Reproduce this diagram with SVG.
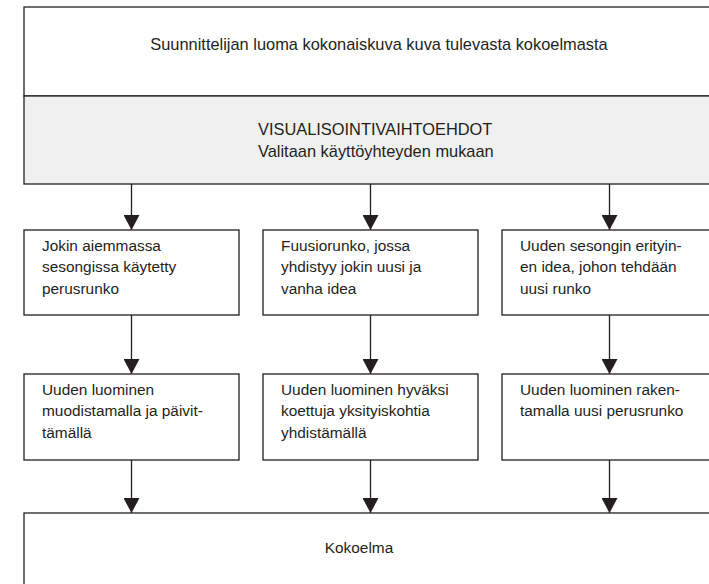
<svg xmlns="http://www.w3.org/2000/svg" width="709" height="584" viewBox="0 0 709 584">
<defs>
<style>
.box{fill:#ffffff;stroke:#231f20;stroke-width:1.3}
.gray{fill:#f0f0f0;stroke:#231f20;stroke-width:1.3}
.t{font-family:"Liberation Sans",Arial,sans-serif;font-size:15.4px;fill:#231f20}
.big{font-size:16.4px}
.c{text-anchor:middle}
.conn line{stroke:#231f20;stroke-width:1.3}
</style>
<marker id="ah" viewBox="0 0 15 16" refX="15" refY="8" markerWidth="15" markerHeight="16" markerUnits="userSpaceOnUse" orient="auto">
<path d="M0,0 L15,8 L0,16 Z" fill="#231f20"/>
</marker>
</defs>
<rect x="0" y="0" width="709" height="584" fill="#ffffff"/>
<g id="top">
<rect class="box" x="24" y="7" width="712" height="89"/>
<text class="t big c" x="379" y="50">Suunnittelijan luoma kokonaiskuva kuva tulevasta kokoelmasta</text>
</g>
<g id="visual">
<rect class="gray" x="24" y="96" width="712" height="88"/>
<text class="t big" x="258" y="135">VISUALISOINTIVAIHTOEHDOT</text>
<text class="t big" x="258" y="157">Valitaan käyttöyhteyden mukaan</text>
</g>
<g id="a1">
<rect class="box" x="24" y="230" width="215" height="85"/>
<text class="t" x="42" y="250.5">Jokin aiemmassa</text>
<text class="t" x="42" y="272">sesongissa käytetty</text>
<text class="t" x="42" y="293.5">perusrunko</text>
</g>
<g id="a2">
<rect class="box" x="263" y="230" width="215" height="85"/>
<text class="t" x="281" y="250.5">Fuusiorunko, jossa</text>
<text class="t" x="281" y="272">yhdistyy jokin uusi ja</text>
<text class="t" x="281" y="293.5">vanha idea</text>
</g>
<g id="a3">
<rect class="box" x="502" y="230" width="215" height="85"/>
<text class="t" x="520" y="250.5">Uuden sesongin erityin-</text>
<text class="t" x="520" y="272">en idea, johon tehdään</text>
<text class="t" x="520" y="293.5">uusi runko</text>
</g>
<g id="b1">
<rect class="box" x="24" y="374" width="215" height="86"/>
<text class="t" x="42" y="394.5">Uuden luominen</text>
<text class="t" x="42" y="416">muodistamalla ja päivit-</text>
<text class="t" x="42" y="437.5">tämällä</text>
</g>
<g id="b2">
<rect class="box" x="263" y="374" width="215" height="86"/>
<text class="t" x="281" y="394.5">Uuden luominen hyväksi</text>
<text class="t" x="281" y="416">koettuja yksityiskohtia</text>
<text class="t" x="281" y="437.5">yhdistämällä</text>
</g>
<g id="b3">
<rect class="box" x="502" y="374" width="215" height="86"/>
<text class="t" x="520" y="394.5">Uuden luominen raken-</text>
<text class="t" x="520" y="416">tamalla uusi perusrunko</text>
</g>
<g id="kokoelma">
<rect class="box" x="24" y="513" width="712" height="90"/>
<text class="t c" x="359" y="553">Kokoelma</text>
</g>
<g id="connectors" class="conn">
<line x1="131.5" y1="184" x2="131.5" y2="230" marker-end="url(#ah)"/>
<line x1="370.5" y1="184" x2="370.5" y2="230" marker-end="url(#ah)"/>
<line x1="609.5" y1="184" x2="609.5" y2="230" marker-end="url(#ah)"/>
<line x1="131.5" y1="315" x2="131.5" y2="374" marker-end="url(#ah)"/>
<line x1="370.5" y1="315" x2="370.5" y2="374" marker-end="url(#ah)"/>
<line x1="609.5" y1="315" x2="609.5" y2="374" marker-end="url(#ah)"/>
<line x1="131.5" y1="460" x2="131.5" y2="513" marker-end="url(#ah)"/>
<line x1="370.5" y1="460" x2="370.5" y2="513" marker-end="url(#ah)"/>
<line x1="609.5" y1="460" x2="609.5" y2="513" marker-end="url(#ah)"/>
</g>
</svg>
